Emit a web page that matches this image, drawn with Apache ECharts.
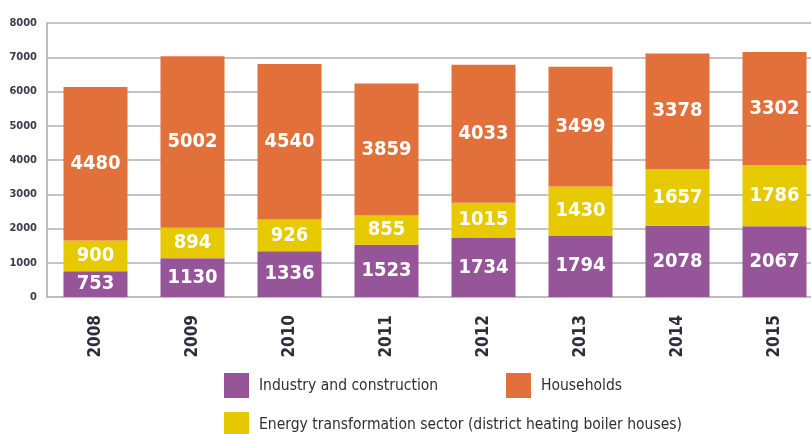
<!DOCTYPE html>
<html>
<head>
<meta charset="utf-8">
<script src="https://cdn.jsdelivr.net/npm/echarts@6/dist/echarts.min.js"></script>
<style>
  * { margin: 0; padding: 0; }
  html, body { background: #fff; overflow: hidden; }
  #main { width: 830px; height: 434px; }
</style>
</head>
<body>
<div id="main"></div>
<script>
  var years = ['2008', '2009', '2010', '2011', '2012', '2013', '2014', '2015'];
  var industry = [753, 1130, 1336, 1523, 1734, 1794, 2078, 2067];
  var energy = [900, 894, 926, 855, 1015, 1430, 1657, 1786];
  var households = [4480, 5002, 4540, 3859, 4033, 3499, 3378, 3302];

  var names = ['Industry and construction', 'Energy transformation sector (district heating boiler houses)', 'Households'];
  var colors = ['#955598', '#e6c900', '#e1703b'];
  var font = '"DejaVu Sans Condensed", "Liberation Sans Narrow", sans-serif';

  var chart = echarts.init(document.getElementById('main'));

  // one legend per item so each can sit where the original has it
  function legendFor(name, left, top) {
    return {
      data: [name],
      left: left,
      top: top,
      padding: 0,
      itemWidth: 25,
      itemHeight: 25,
      icon: 'rect',
      textStyle: { fontFamily: font, fontSize: 15.5, color: '#2e2e3a', padding: [0, 0, 0, 5] }
    };
  }

  function bar(i, data) {
    return {
      name: names[i],
      type: 'bar',
      stack: 'total',
      barWidth: '66%',
      data: data,
      itemStyle: { color: colors[i] },
      label: {
        show: true,
        position: 'inside',
        color: '#fff',
        fontFamily: font,
        fontWeight: 'bold',
        fontSize: 20
      }
    };
  }

  chart.setOption({
    animation: false,
    legend: [
      legendFor(names[0], 224, 373),
      legendFor(names[2], 506, 373),
      legendFor(names[1], 224, 412)
    ],
    grid: {
      left: 47,
      top: 23,
      width: 776,
      bottom: 137
    },
    xAxis: {
      type: 'category',
      data: years,
      axisLine: { show: true, lineStyle: { color: '#bdbdbd', width: 2 } },
      axisTick: { show: false },
      axisLabel: {
        rotate: 90,
        margin: 18,
        fontFamily: font,
        fontWeight: 'bold',
        fontSize: 17,
        color: '#2e2e3a'
      }
    },
    yAxis: {
      type: 'value',
      min: 0,
      max: 8000,
      interval: 1000,
      axisLine: { show: true, lineStyle: { color: '#bdbdbd', width: 2 } },
      axisTick: { show: false },
      splitLine: { lineStyle: { color: '#c4c4c4', width: 2 } },
      axisLabel: {
        margin: 10,
        fontFamily: font,
        fontWeight: 'bold',
        fontSize: 11,
        color: '#3a3a4a',
        formatter: function (v) { return String(v); }
      }
    },
    series: [
      bar(0, industry),
      bar(1, energy),
      bar(2, households)
    ]
  });
</script>
</body>
</html>
